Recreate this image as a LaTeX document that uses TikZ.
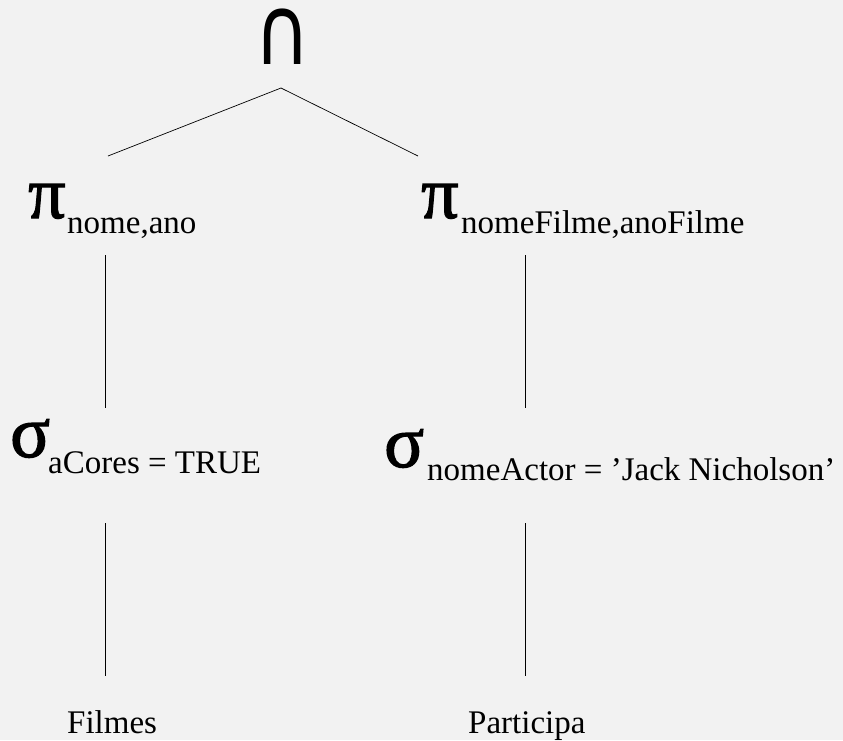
\documentclass[tikz,border=0pt]{standalone}
\usepackage{fontspec}
\setmainfont{Liberation Serif}
\newfontfamily\symfont{DejaVu Sans}
\newfontfamily\greekfont[FakeBold=1.6]{Liberation Serif}
\definecolor{bgcol}{HTML}{F2F2F2}
\begin{document}
\begin{tikzpicture}[x=1pt,y=-1pt,
  greek/.style={inner sep=0pt,anchor=base west,font=\fontsize{74}{80}\greekfont},
  subtxt/.style={inner sep=0pt,anchor=base west,font=\fontsize{33}{40}\selectfont},
  edge/.style={line width=0.7pt,black}]
\useasboundingbox[fill=bgcol] (0,0) rectangle (843,740);
% operators
\node[inner sep=0pt,anchor=base,xscale=0.8,text height=50pt,text depth=0pt,font=\fontsize{96}{110}\symfont] (cap) at (283,64) {∩};
\node[greek] (pil) at (28,218) {π};
\node[subtxt] (pils) at (67,233) {nome,ano};
\node[greek] (pir) at (421,218) {π};
\node[subtxt] (pirs) at (461,233) {nomeFilme,anoFilme};
\node[greek] (sgl) at (10,457) {σ};
\node[subtxt] (sgls) at (48,473) {aCores = TRUE};
\node[greek] (sgr) at (384,467) {σ};
\node[subtxt] (sgrs) at (427,480) {nomeActor = ’Jack Nicholson’};
\node[subtxt] (filmes) at (67,733) {Filmes};
\node[subtxt] (part) at (468,733) {Participa};
% connector ends
\coordinate (capj) at (281,88);
\coordinate (pilt) at (108,156);
\coordinate (pirt) at (418,156);
\coordinate (pilb) at (105,255);
\coordinate (sglt) at (105,408);
\coordinate (sglb) at (105,523);
\coordinate (filt) at (105,676);
\coordinate (pirb) at (525,255);
\coordinate (sgrt) at (525,408);
\coordinate (sgrb) at (525,523);
\coordinate (part) at (525,676);
\draw[edge] (pilt) -- (capj) -- (pirt);
\draw[edge] (pilb) -- (sglt);
\draw[edge] (sglb) -- (filt);
\draw[edge] (pirb) -- (sgrt);
\draw[edge] (sgrb) -- (part);
\end{tikzpicture}
\end{document}
